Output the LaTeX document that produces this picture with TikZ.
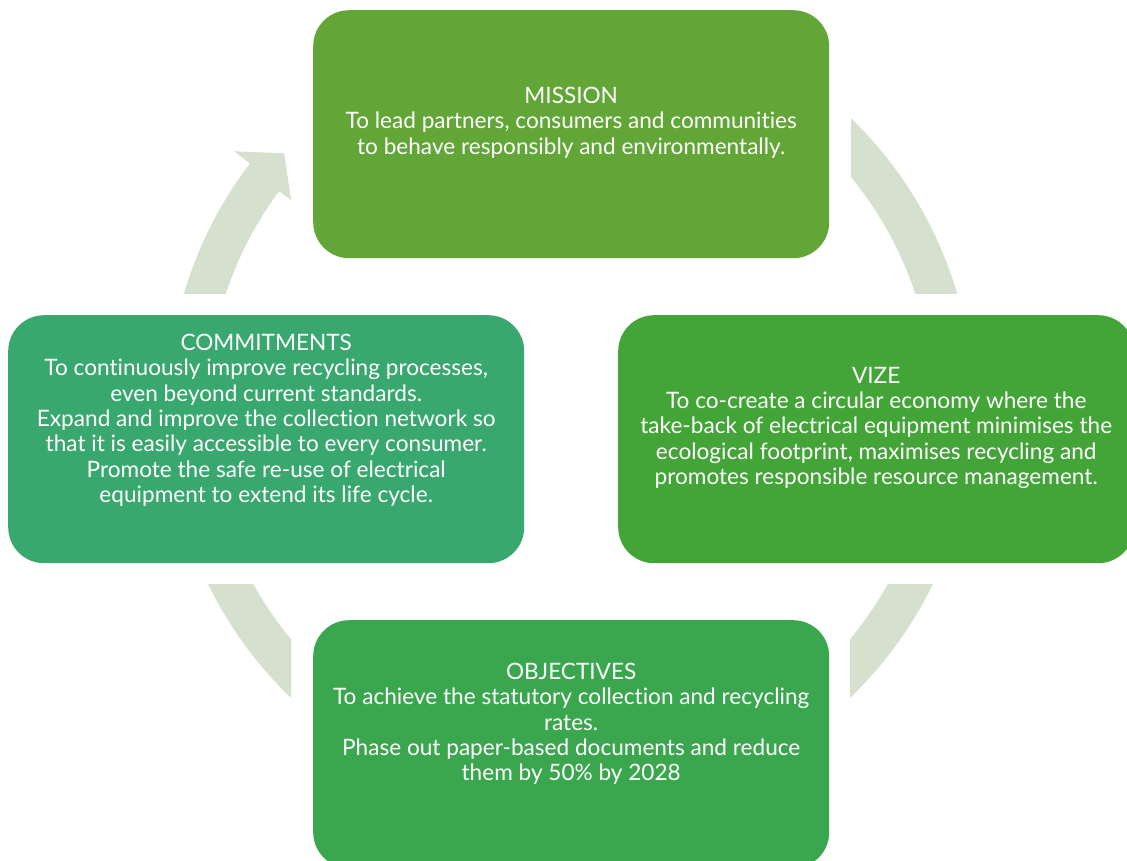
\documentclass[tikz,border=0pt]{standalone}
\usepackage{fontspec}
\setmainfont{Lato}[Ligatures={NoCommon}]
\usetikzlibrary{calc}
\definecolor{ring}{RGB}{213,225,206}
\definecolor{gmission}{RGB}{99,166,56}
\definecolor{gvize}{RGB}{67,165,55}
\definecolor{gcommit}{RGB}{56,168,111}
\definecolor{gobject}{RGB}{58,167,78}
\tikzset{
    box/.style={rectangle,rounded corners=36pt,minimum width=516pt,minimum height=248pt,inner sep=0pt,anchor=north west},
    boxtext/.style={text=white,align=center,anchor=north,inner sep=0pt,font=\fontsize{22.6}{25.3}\selectfont}
}

\begin{document}
\begin{tikzpicture}[x=1pt,y=1pt]
        \useasboundingbox (0,0) rectangle (1127,-861);
        \fill[white] (0,0) rectangle (1127,-861);
        \coordinate (c) at (570.5,-407.6);
        \begin{scope}
            \clip (0,-293) rectangle (570,0);
            \fill[ring] ($(c)+(170:403)$) arc[start angle=170,end angle=142.7,radius=403]
                -- ($(c)+(142.7:423)$) -- ($(c)+(138.4:383)$) -- ($(c)+(143.4:348)$)
                -- ($(c)+(143.4:363)$) arc[start angle=143.4,end angle=170,radius=363] -- cycle;
        \end{scope}
        \begin{scope}
            \clip (851,0) rectangle (1127,-293);
            \fill[ring,even odd rule] (c) circle[radius=403] (c) circle[radius=363];
        \end{scope}
        \begin{scope}
            \clip (850,-584) rectangle (1127,-861);
            \fill[ring,even odd rule] (c) circle[radius=403] (c) circle[radius=363];
        \end{scope}
        \begin{scope}
            \clip (0,-584) rectangle (291,-861);
            \fill[ring,even odd rule] (c) circle[radius=403] (c) circle[radius=363];
        \end{scope}
        \node[box,fill=gmission] (mission) at (313,-10){};
        \node[box,fill=gvize] (vize) at (618,-315){};
        \node[box,fill=gcommit] (commit) at (8,-315){};
        \node[box,fill=gobject] (objectives) at (313,-620){};
        \node[boxtext] (missiontxt) at ($(mission.north)+(0,-77)$){MISSION\\To lead partners, consumers and communities\\to behave responsibly and environmentally.};
        \node[boxtext] (vizetxt) at ($(vize.north)+(0,-52)$){VIZE\\To co-create a circular economy where the\\take-back of electrical equipment minimises the\\ecological footprint, maximises recycling and\\promotes responsible resource management.};
        \node[boxtext] (committxt) at ($(commit.north)+(0,-19)$){COMMITMENTS\\To continuously improve recycling processes,\\even beyond current standards.\\Expand and improve the collection network so\\that it is easily accessible to every consumer.\\Promote the safe re-use of electrical\\equipment to extend its life cycle.};
        \node[boxtext] (objectivestxt) at ($(objectives.north)+(0,-43)$){OBJECTIVES\\To achieve the statutory collection and recycling\\rates.\\Phase out paper-based documents and reduce\\them by 50\% by 2028};
    \end{tikzpicture}
\end{document}
